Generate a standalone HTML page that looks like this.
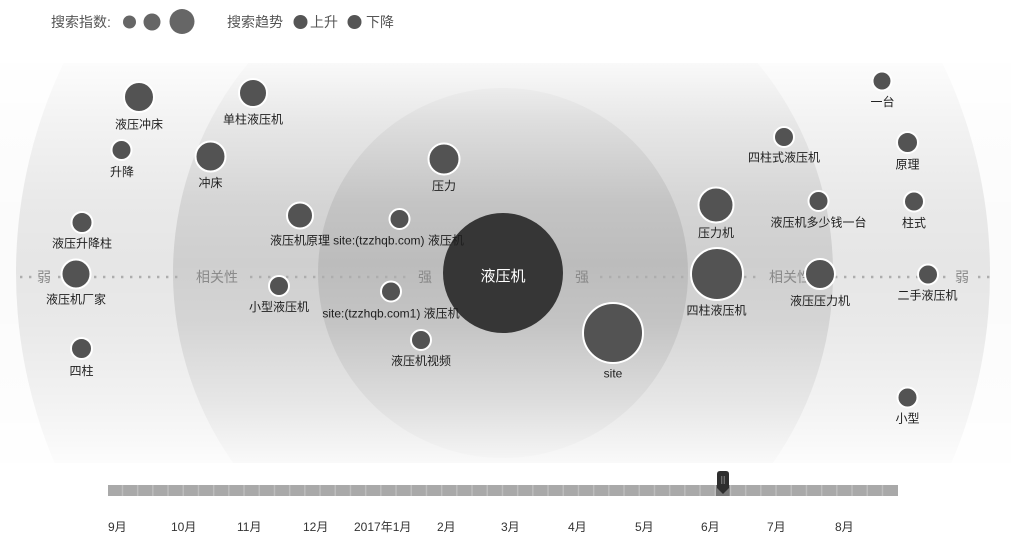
<!DOCTYPE html>
<html><head><meta charset="utf-8">
<style>
html,body{margin:0;padding:0;background:#fff;width:1011px;height:546px;overflow:hidden;}
svg{display:block;position:absolute;left:0;top:0;overflow:hidden;}
text{font-family:"Liberation Sans","Noto Sans CJK SC",sans-serif;}
</style></head>
<body>
<svg width="1011" height="546" viewBox="0 0 1011 546" xmlns="http://www.w3.org/2000/svg">
<defs>
  <linearGradient id="fade" x1="0" y1="63" x2="0" y2="463" gradientUnits="userSpaceOnUse">
    <stop offset="0" stop-color="#fff" stop-opacity="0.88"/>
    <stop offset="0.15" stop-color="#fff" stop-opacity="0.5"/>
    <stop offset="0.35" stop-color="#fff" stop-opacity="0.12"/>
    <stop offset="0.5" stop-color="#fff" stop-opacity="0"/>
    <stop offset="0.65" stop-color="#fff" stop-opacity="0.12"/>
    <stop offset="0.85" stop-color="#fff" stop-opacity="0.5"/>
    <stop offset="1" stop-color="#fff" stop-opacity="0.88"/>
  </linearGradient>
</defs>

<!-- background rings -->
<rect x="0" y="63" width="1011" height="400" fill="#fbfbfb"/>
<path d="M63.6 63 L942.4 63 A487 487 0 0 1 951.4 463 L54.6 463 A487 487 0 0 1 63.6 63 Z" fill="#e6e6e6"/>
<path d="M248.4 63 L757.6 63 A330 330 0 0 1 772.8 463 L233.2 463 A330 330 0 0 1 248.4 63 Z" fill="#cfcfcf"/>
<circle cx="503" cy="273" r="185" fill="#bcbcbc"/>
<rect x="0" y="63" width="1011" height="400" fill="url(#fade)"/>

<!-- dotted axis -->
<g stroke="#adadad" stroke-width="2.4" stroke-dasharray="2.4 6.6" stroke-linecap="butt">
  <line x1="20" y1="277" x2="34" y2="277"/>
  <line x1="58" y1="277" x2="182" y2="277"/>
  <line x1="250" y1="277" x2="410" y2="277"/>
  <line x1="600" y1="277" x2="758" y2="277"/>
  <line x1="826" y1="277" x2="946" y2="277"/>
  <line x1="978" y1="277" x2="992" y2="277"/>
</g>
<g font-size="14" fill="#8a8a8a" text-anchor="middle">
  <text x="44" y="282">弱</text>
  <text x="217" y="282">相关性</text>
  <text x="425" y="282">强</text>
  <text x="582" y="282">强</text>
  <text x="790" y="282">相关性</text>
  <text x="962" y="282">弱</text>
</g>

<!-- center -->
<circle cx="503" cy="273" r="60" fill="#363636"/>
<text x="503" y="281" font-size="15" fill="#fff" text-anchor="middle">液压机</text>

<!-- bubbles -->
<g fill="#535353" stroke="#fff" stroke-width="2">
  <circle cx="139" cy="97" r="15"/>
  <circle cx="253" cy="93" r="14"/>
  <circle cx="121.5" cy="150" r="10"/>
  <circle cx="210.5" cy="156.5" r="15"/>
  <circle cx="300" cy="215.5" r="13"/>
  <circle cx="82" cy="222.5" r="10.5"/>
  <circle cx="76" cy="274" r="14.5"/>
  <circle cx="279" cy="286" r="10"/>
  <circle cx="81.5" cy="348.5" r="10.5"/>
  <circle cx="444" cy="159" r="15.5"/>
  <circle cx="399.5" cy="219" r="10"/>
  <circle cx="391" cy="291.5" r="10"/>
  <circle cx="421" cy="340" r="10"/>
  <circle cx="613" cy="333" r="30"/>
  <circle cx="882" cy="81" r="9.5"/>
  <circle cx="784" cy="137" r="10"/>
  <circle cx="907.5" cy="142.5" r="10.5"/>
  <circle cx="716" cy="205" r="17.5"/>
  <circle cx="818.5" cy="201" r="10"/>
  <circle cx="914" cy="201.5" r="10"/>
  <circle cx="717" cy="274" r="26"/>
  <circle cx="820" cy="274" r="15"/>
  <circle cx="928" cy="274.5" r="10"/>
  <circle cx="907.5" cy="397.5" r="10"/>
</g>

<!-- labels -->
<g font-size="12" fill="#1e1e1e" text-anchor="middle">
  <text x="139" y="128.5">液压冲床</text>
  <text x="253" y="123.5">单柱液压机</text>
  <text x="122" y="176">升降</text>
  <text x="210.5" y="187">冲床</text>
  <text x="300" y="244.5">液压机原理</text>
  <text x="82" y="247.5">液压升降柱</text>
  <text x="76" y="303.5">液压机厂家</text>
  <text x="279" y="311">小型液压机</text>
  <text x="81.5" y="375">四柱</text>
  <text x="444" y="190">压力</text>
  <text x="398.5" y="244.5">site:(tzzhqb.com) 液压机</text>
  <text x="391" y="317.5">site:(tzzhqb.com1) 液压机</text>
  <text x="421" y="365">液压机视频</text>
  <text x="613" y="377.5">site</text>
  <text x="882.5" y="106">一台</text>
  <text x="784" y="161.5">四柱式液压机</text>
  <text x="907.5" y="168.5">原理</text>
  <text x="716" y="237">压力机</text>
  <text x="818.5" y="226.5">液压机多少钱一台</text>
  <text x="914" y="227">柱式</text>
  <text x="716.5" y="314.5">四柱液压机</text>
  <text x="820" y="305">液压压力机</text>
  <text x="927.5" y="299.5">二手液压机</text>
  <text x="907.5" y="422.5">小型</text>
</g>

<!-- legend -->
<g font-size="14" fill="#555">
  <text x="51" y="27">搜索指数:</text>
  <text x="227" y="27">搜索趋势</text>
  <text x="310" y="27">上升</text>
  <text x="366" y="27">下降</text>
</g>
<circle cx="129.5" cy="22" r="6.5" fill="#666"/>
<circle cx="152" cy="22" r="8.5" fill="#666"/>
<circle cx="182" cy="21.5" r="12.5" fill="#666"/>
<circle cx="300.5" cy="22" r="7" fill="#555"/>
<circle cx="354.5" cy="22" r="7" fill="#555"/>

<!-- timeline -->
<rect x="108" y="485" width="790" height="11" fill="#bdbdbd"/>
<g fill="#a9a9a9">
<rect x="108.0" y="485" width="13.7" height="11"/><rect x="123.2" y="485" width="13.7" height="11"/><rect x="138.4" y="485" width="13.7" height="11"/><rect x="153.6" y="485" width="13.7" height="11"/><rect x="168.8" y="485" width="13.7" height="11"/><rect x="184.0" y="485" width="13.7" height="11"/><rect x="199.2" y="485" width="13.7" height="11"/><rect x="214.4" y="485" width="13.7" height="11"/><rect x="229.6" y="485" width="13.7" height="11"/><rect x="244.8" y="485" width="13.7" height="11"/><rect x="260.0" y="485" width="13.7" height="11"/><rect x="275.2" y="485" width="13.7" height="11"/><rect x="290.4" y="485" width="13.7" height="11"/><rect x="305.6" y="485" width="13.7" height="11"/><rect x="320.8" y="485" width="13.7" height="11"/><rect x="336.0" y="485" width="13.7" height="11"/><rect x="351.2" y="485" width="13.7" height="11"/><rect x="366.4" y="485" width="13.7" height="11"/><rect x="381.6" y="485" width="13.7" height="11"/><rect x="396.8" y="485" width="13.7" height="11"/><rect x="412.0" y="485" width="13.7" height="11"/><rect x="427.2" y="485" width="13.7" height="11"/><rect x="442.4" y="485" width="13.7" height="11"/><rect x="457.6" y="485" width="13.7" height="11"/><rect x="472.8" y="485" width="13.7" height="11"/><rect x="488.0" y="485" width="13.7" height="11"/><rect x="503.2" y="485" width="13.7" height="11"/><rect x="518.4" y="485" width="13.7" height="11"/><rect x="533.6" y="485" width="13.7" height="11"/><rect x="548.8" y="485" width="13.7" height="11"/><rect x="564.0" y="485" width="13.7" height="11"/><rect x="579.2" y="485" width="13.7" height="11"/><rect x="594.4" y="485" width="13.7" height="11"/><rect x="609.6" y="485" width="13.7" height="11"/><rect x="624.8" y="485" width="13.7" height="11"/><rect x="640.0" y="485" width="13.7" height="11"/><rect x="655.2" y="485" width="13.7" height="11"/><rect x="670.4" y="485" width="13.7" height="11"/><rect x="685.6" y="485" width="13.7" height="11"/><rect x="700.8" y="485" width="13.7" height="11"/><rect x="731.2" y="485" width="13.7" height="11"/><rect x="746.4" y="485" width="13.7" height="11"/><rect x="761.6" y="485" width="13.7" height="11"/><rect x="776.8" y="485" width="13.7" height="11"/><rect x="792.0" y="485" width="13.7" height="11"/><rect x="807.2" y="485" width="13.7" height="11"/><rect x="822.4" y="485" width="13.7" height="11"/><rect x="837.6" y="485" width="13.7" height="11"/><rect x="852.8" y="485" width="13.7" height="11"/><rect x="868.0" y="485" width="13.7" height="11"/><rect x="883.2" y="485" width="14.8" height="11"/>
</g>
<rect x="716" y="485" width="13.7" height="11" fill="#777"/>
<path d="M717 474 Q717 471 720 471 L726 471 Q729 471 729 474 L729 488 L723 494 L717 488 Z" fill="#2e2e2e"/>
<line x1="721.8" y1="476" x2="721.8" y2="484" stroke="#999" stroke-width="0.8"/>
<line x1="724.2" y1="476" x2="724.2" y2="484" stroke="#999" stroke-width="0.8"/>

<g font-size="12" fill="#333">
  <text x="108" y="531">9月</text>
  <text x="171" y="531">10月</text>
  <text x="237" y="531">11月</text>
  <text x="303" y="531">12月</text>
  <text x="354" y="531">2017年1月</text>
  <text x="437" y="531">2月</text>
  <text x="501" y="531">3月</text>
  <text x="568" y="531">4月</text>
  <text x="635" y="531">5月</text>
  <text x="701" y="531">6月</text>
  <text x="767" y="531">7月</text>
  <text x="835" y="531">8月</text>
</g>
</svg>
</body></html>
